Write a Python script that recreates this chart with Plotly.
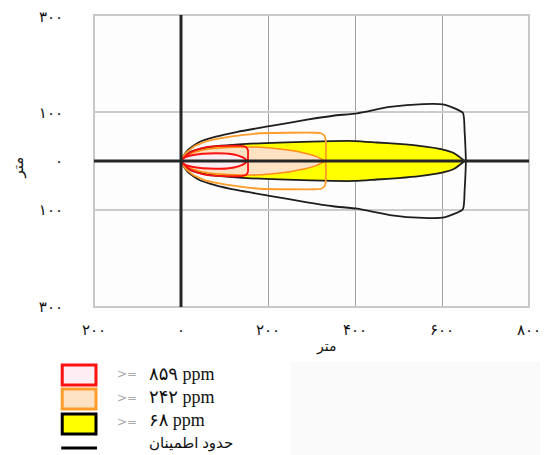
import plotly.graph_objects as go

# ---------------- data (upper half of each symmetric zone; metres) ----------------
x_ticks = [-200, 0, 200, 400, 600, 800]
x_ticktext = ["۲۰۰", "۰", "۲۰۰", "۴۰۰", "۶۰۰", "۸۰۰"]
y_ticks = [300, 100, 0, -100, -300]
y_ticktext = ["۳۰۰", "۱۰۰", "۰", "۱۰۰", "۳۰۰"]

# confidence outline for 68 ppm zone (black)
conf_x = [0, 15, 40, 80, 130, 200, 290, 350, 405, 480, 557, 605, 648, 652, 654, 655]
conf_y = [0, 22, 38, 50, 60, 71, 85, 93, 98, 111, 117, 116, 99, 60, 25, 0]

# 68 ppm zone (yellow)
z68_x = [0, 20, 60, 150, 300, 400, 450, 500, 548, 600, 628, 652]
z68_y = [0, 18, 28, 35, 40, 41, 38, 35, 31, 24, 16, 0]

# confidence outline for 242 ppm zone (orange)
conf242_x = [0, 10, 30, 60, 100, 140, 180, 250, 308, 322, 330, 333, 333, 333]
conf242_y = [0, 15, 30, 41, 48, 53, 57, 58, 58, 57, 52, 40, 15, 0]

# 242 ppm zone (peach)
z242_x = [0, 20, 60, 120, 160, 200, 250, 285, 312, 331]
z242_y = [0, 14, 24, 28, 29, 27, 22, 16, 9, 0]

# confidence outline for 859 ppm zone (red)
conf859_x = [0, 15, 32, 61, 100, 138, 149, 154, 154, 154]
conf859_y = [0, 14, 22, 29, 31, 31, 29, 22, 10, 0]

# 859 ppm zone (pink)
z859_x = [0, 10, 25, 50, 80, 110, 132, 145, 152]
z859_y = [0, 8, 12, 15, 16, 15, 11, 6, 0]

legend_labels = ["۸۵۹ ppm", "۲۴۲ ppm", "۶۸ ppm", "حدود اطمینان"]
axis_title = "متر"

# ---------------- helpers ----------------
def closed(xs, ys):
    X = list(xs) + list(reversed(xs))
    Y = list(ys) + [-v for v in reversed(ys)]
    return X, Y

OFF = 8  # page body margin
W, H = 548 - OFF, 455 - OFF
L, R, T, B = 94, 532, 15, 307  # plot area in window pixels

def px(x):
    return (x - L) / (R - L)

def py(y):
    return (B - y) / (B - T)

fig = go.Figure()

def add_zone(xs, ys, line_color, fill_color, width, smooth=0.6):
    X, Y = closed(xs, ys)
    fig.add_trace(go.Scatter(
        x=X, y=Y, mode="lines",
        line=dict(color=line_color, width=width, shape="spline", smoothing=smooth),
        fill="toself" if fill_color else "none",
        fillcolor=fill_color, hoverinfo="skip", showlegend=False))

add_zone(conf_x, conf_y, "#1e1e1e", None, 1.8, 0.5)
add_zone(z68_x, z68_y, "#1e1e1e", "#ffff00", 1.8)
add_zone(conf242_x, conf242_y, "#ff9c2a", None, 1.8, 0.4)
add_zone(z242_x, z242_y, "#ff8a1e", "#fde2c4", 1.5)
add_zone(conf859_x, conf859_y, "#ff1010", None, 1.8, 0.4)
add_zone(z859_x, z859_y, "#ff1010", "#fdeef3", 2)

font_main = "Liberation Serif, DejaVu Sans, serif"

shapes = []
shapes.append(dict(type="rect", xref="paper", yref="paper", x0=0, x1=1, y0=0, y1=1,
                   line=dict(color="#c8c8c8", width=2), layer="above"))
shapes.append(dict(type="line", xref="paper", yref="y", x0=0, x1=1, y0=0, y1=0,
                   line=dict(color="#262626", width=3), layer="above"))
shapes.append(dict(type="line", xref="x", yref="paper", x0=0, x1=0, y0=0, y1=1,
                   line=dict(color="#262626", width=3), layer="above"))

shapes.append(dict(type="rect", xref="paper", yref="paper", x0=px(292), x1=px(548),
                   y0=py(455), y1=py(362), line=dict(width=0), fillcolor="#fafafa", layer="below"))

sw = [
    (365, 385, "#ff1010", "#fdeef3"),
    (389, 409, "#ff9c2a", "#fde2c4"),
    (414, 434, "#000000", "#ffff00"),
]
for y0, y1, lc, fc in sw:
    shapes.append(dict(type="rect", xref="paper", yref="paper",
                       x0=px(62), x1=px(96), y0=py(y1), y1=py(y0),
                       line=dict(color=lc, width=3), fillcolor=fc))
shapes.append(dict(type="line", xref="paper", yref="paper",
                   x0=px(61), x1=px(97), y0=py(448), y1=py(448),
                   line=dict(color="#000000", width=3)))

annotations = []
for yy in [374, 398, 422]:
    annotations.append(dict(xref="paper", yref="paper", x=px(115), y=py(yy),
                            xanchor="left", yanchor="middle", showarrow=False,
                            text=">=", font=dict(family="DejaVu Sans", size=12, color="#a8a8a8")))
for yy, lab, fs in zip([374, 397, 420, 443], legend_labels, [18, 18, 18, 15]):
    annotations.append(dict(xref="paper", yref="paper", x=px(147), y=py(yy),
                            xanchor="left", yanchor="middle", showarrow=False,
                            text=lab, font=dict(family=font_main, size=fs, color="#111")))
annotations.append(dict(xref="paper", yref="paper", x=px(328), y=py(347),
                        xanchor="center", yanchor="middle", showarrow=False,
                        text=axis_title, font=dict(family=font_main, size=14, color="#111")))
annotations.append(dict(xref="paper", yref="paper", x=px(17), y=py(168),
                        xanchor="center", yanchor="middle", showarrow=False, textangle=-90,
                        text=axis_title, font=dict(family=font_main, size=15, color="#111")))
# top y tick label (plotly hides it because it touches the page edge)
annotations.append(dict(xref="paper", yref="paper", x=px(65), y=py(17),
                        xanchor="right", yanchor="middle", showarrow=False,
                        text=y_ticktext[0], font=dict(family=font_main, size=15, color="#111")))

fig.update_layout(
    width=W, height=H,
    margin=dict(l=L - OFF, r=548 - R, t=T - OFF, b=455 - B, pad=0),
    paper_bgcolor="white", plot_bgcolor="#fdfdfd",
    shapes=shapes, annotations=annotations,
    showlegend=False,
    xaxis=dict(range=[-200, 800], tickvals=x_ticks, ticktext=x_ticktext,
               showgrid=True, gridcolor="#a0a0a0", gridwidth=1, zeroline=False,
               showline=False, ticks="", ticklabelstandoff=12,
               tickfont=dict(family=font_main, size=15, color="#111"), fixedrange=True),
    yaxis=dict(range=[-300, 300], tickvals=y_ticks, ticktext=y_ticktext,
               showgrid=True, gridcolor="#cccccc", gridwidth=2, zeroline=False,
               showline=False, ticks="", ticklabelstandoff=30,
               tickfont=dict(family=font_main, size=15, color="#111"), fixedrange=True),
)

fig.write_html("out.html")
